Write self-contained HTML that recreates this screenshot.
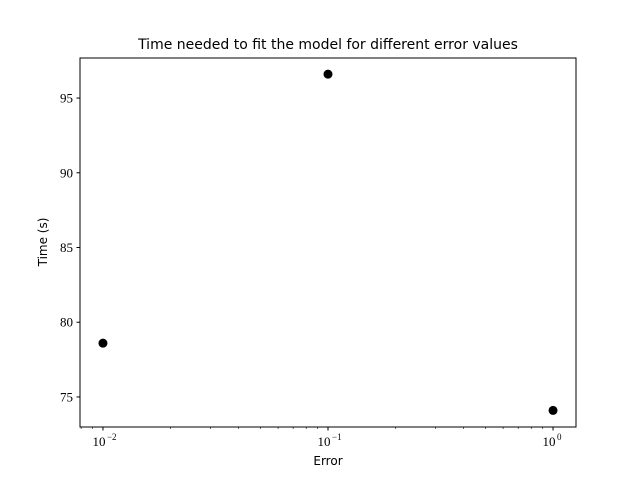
<!DOCTYPE html>
<html><head><meta charset="utf-8"><style>body{margin:0;background:#fff}svg{display:block}text{font-family:"DejaVu Sans","Liberation Sans",sans-serif;fill:#000}.serif{font-family:"Liberation Serif","DejaVu Serif",serif}</style></head>
<body>
<svg id="chart" width="640" height="480" viewBox="0 0 640 480" xmlns="http://www.w3.org/2000/svg">
<rect width="640" height="480" fill="#fff"/>
<text x="328" y="49" font-size="14" text-anchor="middle">Time needed to fit the model for different error values</text>
<g id="plot"></g>
<rect x="80" y="58" width="496" height="369" fill="none" stroke="#000" stroke-width="1"/>
<text x="328" y="465" font-size="12" text-anchor="middle">Error</text>
<text transform="translate(47,242) rotate(-90)" font-size="12" text-anchor="middle">Time (s)</text>
</svg>
<script>
const errors = [0.01, 0.1, 1];
const times = [78.6, 96.6, 74.1];
const yTicks = [75, 80, 85, 90, 95];
const xTickExps = [-2, -1, 0];

const L=80,R=576,T=58,B=427;
const xMin=-2.102,xMax=0.102,yMin=72.99,yMax=97.68;
const xs=v=>L+(Math.log10(v)-xMin)/(xMax-xMin)*(R-L);
const ys=v=>B-(v-yMin)/(yMax-yMin)*(B-T);
const NS="http://www.w3.org/2000/svg";
const g=document.getElementById('plot');
function mk(tag,attrs){const e=document.createElementNS(NS,tag);for(const k in attrs)e.setAttribute(k,attrs[k]);g.appendChild(e);return e;}

yTicks.forEach(v=>{
  const y=ys(v);
  const t=mk('line',{x1:L-3.5,x2:L,y1:y,y2:y,stroke:'#000'});
  
  
  const l=mk('text',{x:L-7,y:y+4.5,'font-size':'13','text-anchor':'end','class':'serif'});
  
  
  l.textContent=v;
});
xTickExps.forEach(e=>{
  const x=xs(Math.pow(10,e));
  const t=mk('line',{x1:x,x2:x,y1:B,y2:B+3.5,stroke:'#000'});
  
  
  const l=mk('text',{x:x-4,y:B+19,'font-size':'13','text-anchor':'middle','class':'serif'});
  
  
  l.textContent='10';
  const s=mk('text',{x:x+4,y:B+13,'font-size':'9','text-anchor':'start','class':'serif'});
  
  
  s.textContent=e<0?'\u2212'+(-e):String(e);
});
for(let e=-3;e<=0;e++){for(let m=2;m<=9;m++){
  const v=m*Math.pow(10,e);const lv=Math.log10(v);
  if(lv<xMin||lv>xMax)continue;
  const x=xs(v);
  const t=mk('line',{x1:x,x2:x,y1:B,y2:B+2,stroke:'#000','stroke-width':'0.6'});
  
  
}}
errors.forEach((v,i)=>{
  const c=mk('circle',{cx:xs(v),cy:ys(times[i]),r:4.5,fill:'#000'});
  
  
});
</script>
</body></html>
